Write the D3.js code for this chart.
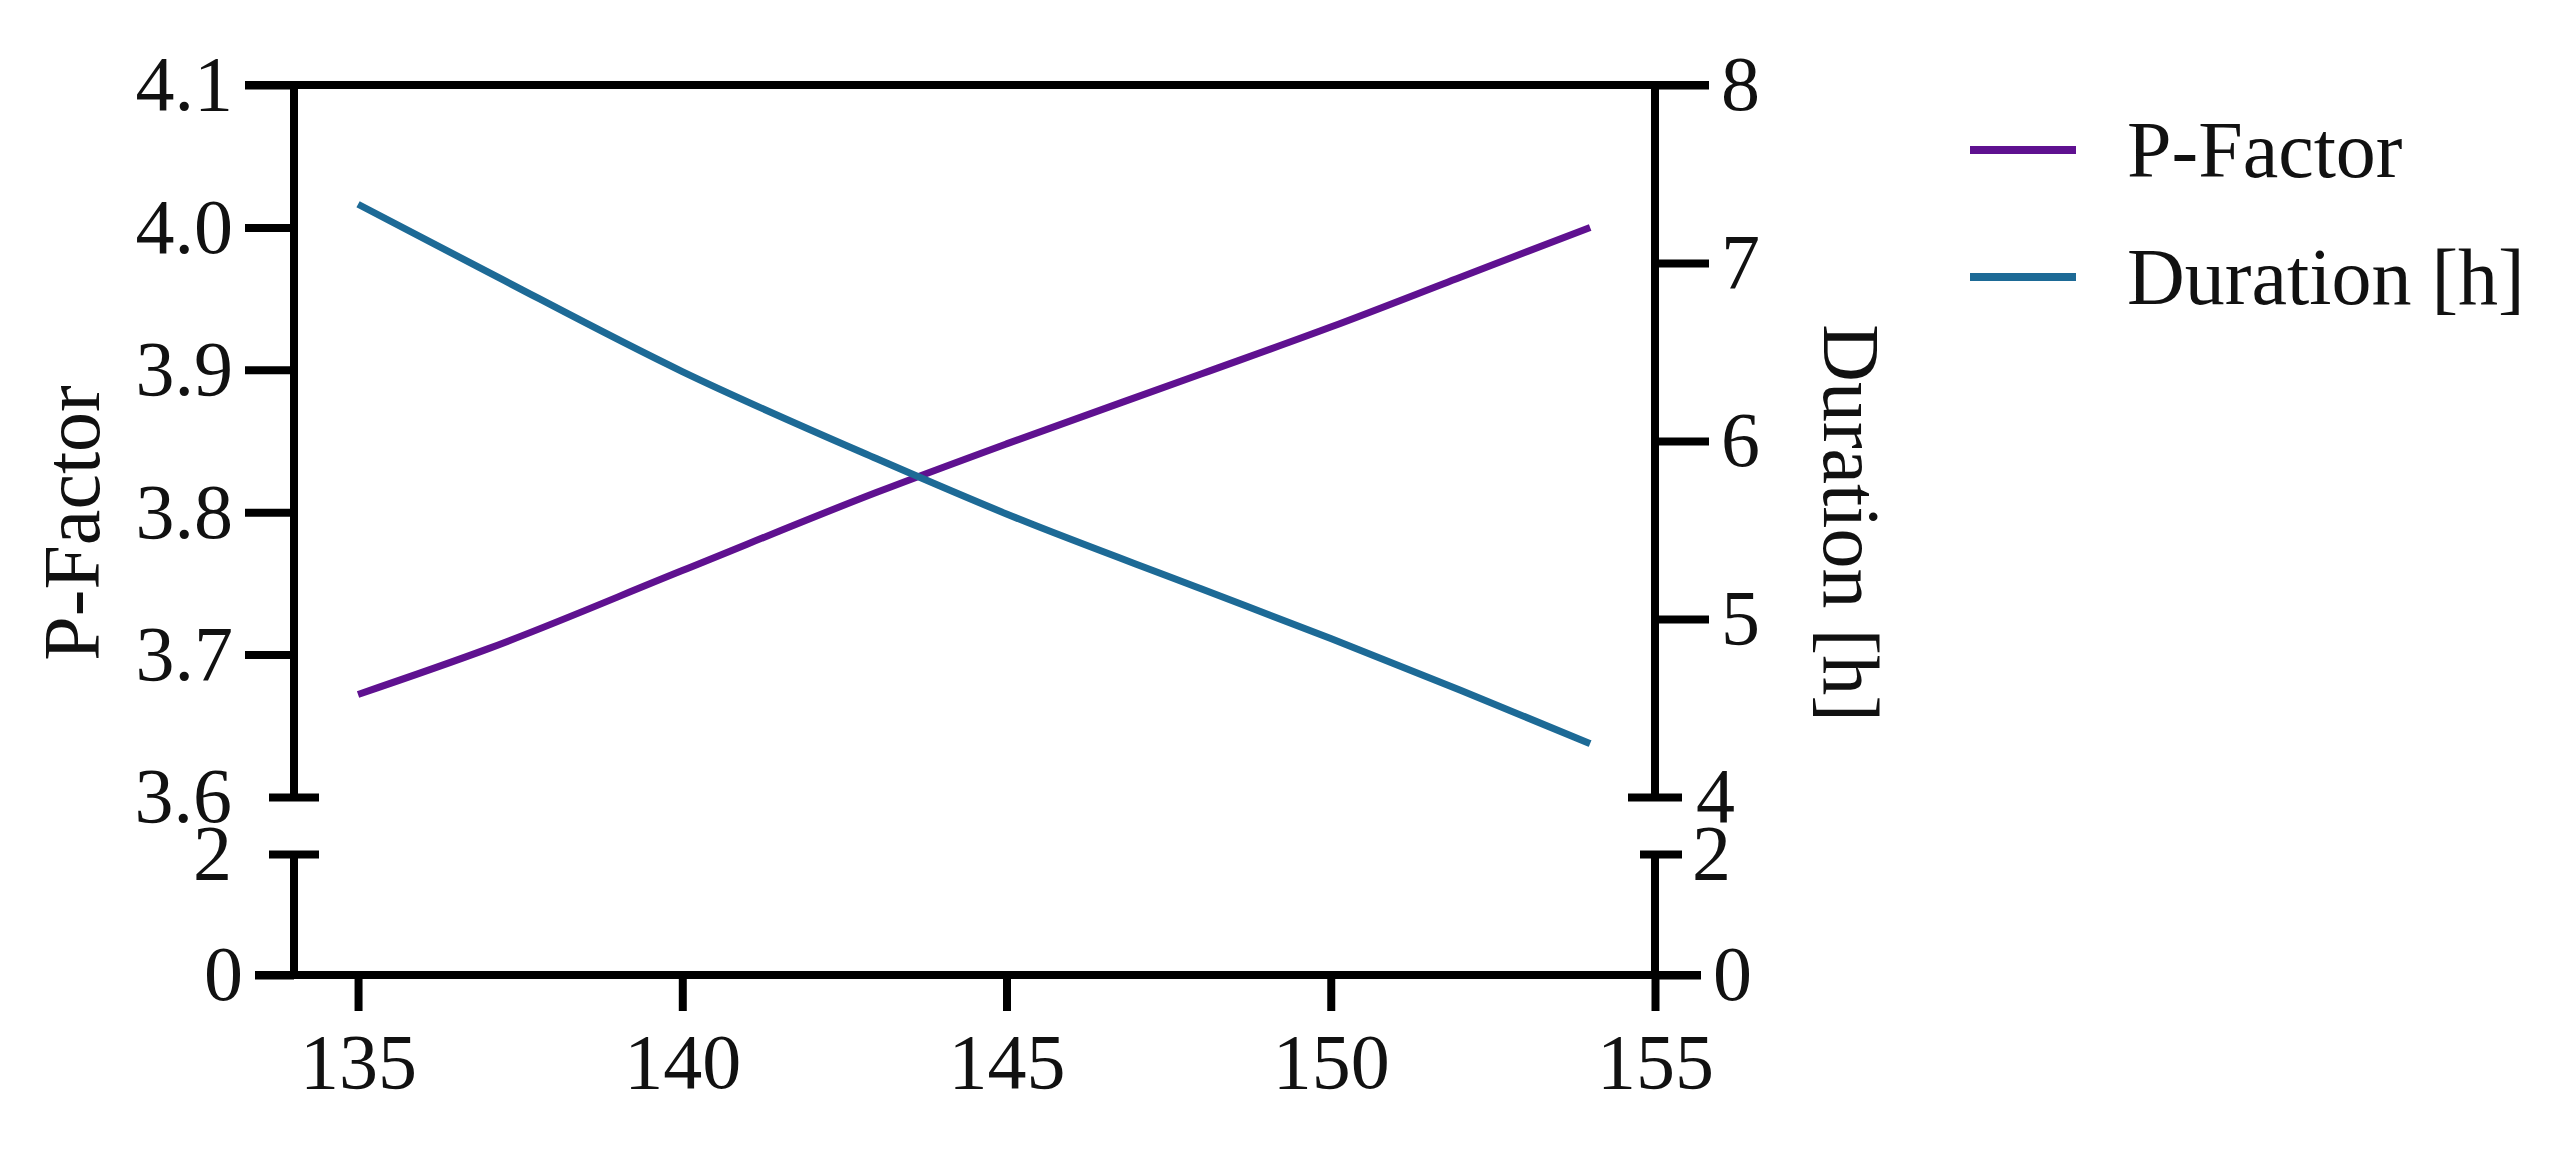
<!DOCTYPE html>
<html>
<head>
<meta charset="utf-8">
<script src="https://cdn.jsdelivr.net/npm/d3@7"></script>
<style>
  body { margin: 0; background: #fff; }
  text { font-family: "Liberation Serif", "DejaVu Serif", serif; fill: #111; }
</style>
</head>
<body>
<svg id="chart" width="2574" height="1152"></svg>
<script>
// Data
const xValues = [135, 137, 140, 143, 145, 148, 150, 152, 154];
const pFactor = [3.672, 3.704, 3.759, 3.814, 3.848, 3.897, 3.930, 3.965, 4.000];
const duration = [7.33, 6.95, 6.39, 5.90, 5.59, 5.17, 4.89, 4.60, 4.30];
const xTicks = [135, 140, 145, 150, 155];
const leftTopTicks = [3.6, 3.7, 3.8, 3.9, 4.0, 4.1];
const leftBottomTicks = [0, 2];
const rightTopTicks = [4, 5, 6, 7, 8];
const rightBottomTicks = [0, 2];
const seriesNames = ["P-Factor", "Duration [h]"];
const seriesColors = ["#5f1190", "#1d6a96"];

const svg = d3.select("#chart");
const left = 294, right = 1655;
const topY = 85, breakTop = 797, breakBottom = 854, bottomY = 975;

const x = d3.scaleLinear()
  .domain([135 - (358 - left) / 64.8, 155]).range([left, right]);

// Left axis segments
const yLeftTop = d3.scaleLinear().domain([3.6, 4.1]).range([breakTop, topY]);
const yLeftBot = d3.scaleLinear().domain([0, 2]).range([bottomY, breakBottom]);
// Right axis segments
const yRightTop = d3.scaleLinear().domain([4, 8]).range([breakTop, topY]);
const yRightBot = d3.scaleLinear().domain([0, 2]).range([bottomY, breakBottom]);

const axisW = 8;
function styleAxis(g) {
  g.select(".domain").remove();
  g.selectAll(".tick line").attr("stroke", "#000").attr("stroke-width", axisW);
  g.selectAll(".tick text").style("font-size", "78px").attr("fill", "#111");
}

// frame lines
svg.append("line").attr("x1", left - 49).attr("x2", right + 54)
  .attr("y1", topY).attr("y2", topY).attr("stroke", "#000").attr("stroke-width", axisW);
svg.append("line").attr("x1", left - 39).attr("x2", right + 46)
  .attr("y1", bottomY).attr("y2", bottomY).attr("stroke", "#000").attr("stroke-width", axisW);
[left, right].forEach(px => {
  svg.append("line").attr("x1", px).attr("x2", px).attr("y1", topY).attr("y2", breakTop)
    .attr("stroke", "#000").attr("stroke-width", axisW);
  svg.append("line").attr("x1", px).attr("x2", px).attr("y1", breakBottom).attr("y2", bottomY)
    .attr("stroke", "#000").attr("stroke-width", axisW);
});

const f1 = d3.format(".1f"), fd = d3.format("d");

// left axis ticks
svg.append("g").attr("transform", `translate(${left},0)`)
  .call(d3.axisLeft(yLeftTop).tickValues(leftTopTicks.slice(1)).tickSize(49).tickPadding(12).tickFormat(f1))
  .call(styleAxis);
svg.append("g").attr("transform", `translate(${left},0)`)
  .call(d3.axisLeft(yLeftBot).tickValues([leftBottomTicks[0]]).tickSize(39).tickPadding(12).tickFormat(fd))
  .call(styleAxis);
// break ticks (centered on axis)
svg.append("g").attr("transform", `translate(${left + 25},0)`)
  .call(d3.axisLeft(yLeftTop).tickValues([leftTopTicks[0]]).tickSize(50).tickPadding(37).tickFormat(f1))
  .call(styleAxis);
svg.append("g").attr("transform", `translate(${left + 25},0)`)
  .call(d3.axisLeft(yLeftBot).tickValues([leftBottomTicks[1]]).tickSize(50).tickPadding(37).tickFormat(fd))
  .call(styleAxis);

// right axis ticks
svg.append("g").attr("transform", `translate(${right},0)`)
  .call(d3.axisRight(yRightTop).tickValues(rightTopTicks.slice(1)).tickSize(54).tickPadding(12).tickFormat(fd))
  .call(styleAxis);
svg.append("g").attr("transform", `translate(${right},0)`)
  .call(d3.axisRight(yRightBot).tickValues([rightBottomTicks[0]]).tickSize(46).tickPadding(12).tickFormat(fd))
  .call(styleAxis);
svg.append("g").attr("transform", `translate(${right - 27},0)`)
  .call(d3.axisRight(yRightTop).tickValues([rightTopTicks[0]]).tickSize(54).tickPadding(14).tickFormat(fd))
  .call(styleAxis);
svg.append("g").attr("transform", `translate(${right - 15},0)`)
  .call(d3.axisRight(yRightBot).tickValues([rightBottomTicks[1]]).tickSize(42).tickPadding(10).tickFormat(fd))
  .call(styleAxis);

// x axis
svg.append("g").attr("transform", `translate(0,${bottomY})`)
  .call(d3.axisBottom(x).tickValues(xTicks).tickSize(36).tickPadding(22))
  .call(styleAxis);

// lines
const pts = xValues.map((v, i) => ({ x: v, p: pFactor[i], d: duration[i] }));
svg.append("path").datum(pts)
  .attr("fill", "none").attr("stroke", seriesColors[0]).attr("stroke-width", 7)
  .attr("d", d3.line().x(d => x(d.x)).y(d => yLeftTop(d.p)).curve(d3.curveMonotoneX));
svg.append("path").datum(pts)
  .attr("fill", "none").attr("stroke", seriesColors[1]).attr("stroke-width", 7)
  .attr("d", d3.line().x(d => x(d.x)).y(d => yRightTop(d.d)).curve(d3.curveMonotoneX));

// axis titles
svg.append("text").attr("transform", "translate(72,523) rotate(-90)")
  .attr("text-anchor", "middle").attr("dominant-baseline", "central")
  .style("font-size", "80px").text("P-Factor");
svg.append("text").attr("transform", "translate(1851,523) rotate(90)")
  .attr("text-anchor", "middle").attr("dominant-baseline", "central")
  .style("font-size", "80px").text("Duration [h]");

// legend
const leg = svg.append("g");
seriesNames.forEach((name, i) => {
  const yy = 150 + i * 127;
  leg.append("line").attr("x1", 1970).attr("x2", 2076).attr("y1", yy).attr("y2", yy)
    .attr("stroke", seriesColors[i]).attr("stroke-width", 8);
  leg.append("text").attr("x", 2127).attr("y", yy).attr("dominant-baseline", "central")
    .style("font-size", "80px").text(name);
});
</script>
</body>
</html>
